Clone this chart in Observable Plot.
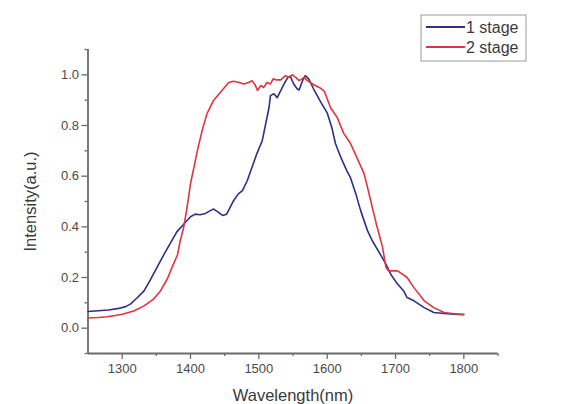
<!DOCTYPE html>
<html>
<head>
<meta charset="utf-8">
<script src="https://cdn.jsdelivr.net/npm/d3@7"></script>
<script src="https://cdn.jsdelivr.net/npm/@observablehq/plot@0.6"></script>
<style>
  html, body { margin: 0; padding: 0; background: #fff; }
  #wrap { position: relative; width: 582px; height: 404px; font-family: "Liberation Sans", Arial, sans-serif; }
  #legend { position: absolute; left: 0; top: 0; }
</style>
</head>
<body>
<div id="wrap"></div>
<script>
// Series names
const seriesNames = ["1 stage", "2 stage"];
const seriesColors = ["#2e3182", "#e2343f"];

// 1 stage
const wavelength1 = [1250,1265,1280,1295,1305,1312,1322,1332,1341,1351,1361,1371,1380,1390,1400,1407,1414,1422,1429,1434,1441,1447,1453,1458,1463,1470,1476,1483,1490,1497,1505,1510,1515,1517,1522,1527,1532,1537,1542,1546,1551,1556,1559,1564,1568,1573,1580,1590,1600,1607,1612,1620,1629,1634,1642,1649,1659,1666,1678,1686,1693,1703,1712,1717,1727,1742,1756,1771,1786,1800];
const intensity1 = [0.066,0.069,0.072,0.078,0.085,0.095,0.12,0.147,0.19,0.24,0.29,0.338,0.38,0.41,0.44,0.45,0.448,0.453,0.464,0.47,0.457,0.445,0.45,0.477,0.503,0.53,0.543,0.582,0.635,0.688,0.74,0.806,0.872,0.918,0.925,0.91,0.938,0.964,0.988,0.995,0.964,0.945,0.94,0.977,0.997,0.984,0.945,0.895,0.85,0.79,0.73,0.674,0.62,0.595,0.53,0.464,0.385,0.345,0.29,0.253,0.213,0.174,0.147,0.121,0.108,0.081,0.062,0.058,0.055,0.053];

// 2 stage
const wavelength2 = [1250,1265,1278,1290,1300,1317,1332,1346,1356,1366,1373,1381,1385,1390,1395,1400,1405,1410,1417,1424,1434,1446,1456,1463,1471,1478,1485,1490,1495,1498,1503,1507,1512,1517,1521,1526,1532,1539,1544,1549,1554,1559,1564,1566,1571,1581,1590,1596,1605,1615,1624,1634,1644,1654,1659,1666,1673,1681,1686,1690,1703,1717,1727,1742,1756,1771,1786,1800];
const intensity2 = [0.04,0.042,0.045,0.05,0.055,0.068,0.088,0.115,0.147,0.194,0.24,0.29,0.345,0.398,0.477,0.57,0.635,0.70,0.78,0.846,0.90,0.938,0.97,0.975,0.97,0.964,0.97,0.977,0.958,0.938,0.958,0.95,0.97,0.964,0.984,0.98,0.98,0.997,0.99,1.0,0.99,0.977,0.985,0.99,0.977,0.96,0.948,0.935,0.87,0.83,0.77,0.73,0.67,0.61,0.556,0.477,0.40,0.32,0.24,0.226,0.226,0.20,0.16,0.108,0.081,0.062,0.057,0.055];

// Ticks
const xMajorTicks = [1300,1400,1500,1600,1700,1800];
const xMinorTicks = [1350,1450,1550,1650,1750,1850];
const yMajorTicks = [0.0,0.2,0.4,0.6,0.8,1.0];
const yMinorTicks = [-0.1,0.1,0.3,0.5,0.7,0.9,1.1];
const xDomain = [1250, 1850];
const yDomain = [-0.1, 1.1];
const xLabel = "Wavelength(nm)";
const yLabel = "Intensity(a.u.)";

const data1 = wavelength1.map((w, i) => ({w, v: intensity1[i]}));
const data2 = wavelength2.map((w, i) => ({w, v: intensity2[i]}));

const axisColor = "#6a6a6a";
const textColor = "#4a4a4a";

const chart = Plot.plot({
  width: 582,
  height: 404,
  marginLeft: 87.5,
  marginRight: 84.5,
  marginTop: 49,
  marginBottom: 51,
  x: {domain: xDomain},
  y: {domain: yDomain},
  style: {fontFamily: "'Liberation Sans', Arial, sans-serif", background: "#fff", color: textColor},
  marks: [
    Plot.axisX(xMajorTicks, {tickSize: 6, tickPadding: 4, tickFormat: d => String(d), fontSize: 13, label: null, stroke: axisColor, strokeWidth: 1.3, fill: textColor}),
    Plot.axisX(xMinorTicks, {tickSize: 3, tickFormat: () => "", label: null, stroke: axisColor, strokeWidth: 1.3}),
    Plot.axisY(yMajorTicks, {tickSize: 6, tickPadding: 3, tickFormat: d3.format(".1f"), fontSize: 13, label: null, stroke: axisColor, strokeWidth: 1.3, fill: textColor}),
    Plot.axisY(yMinorTicks, {tickSize: 3, tickFormat: () => "", label: null, stroke: axisColor, strokeWidth: 1.3}),
    Plot.ruleX([xDomain[0]], {stroke: axisColor, strokeWidth: 1.8}),
    Plot.ruleY([yDomain[0]], {stroke: axisColor, strokeWidth: 1.8}),
    Plot.line(data1, {x: "w", y: "v", stroke: seriesColors[0], strokeWidth: 1.6}),
    Plot.line(data2, {x: "w", y: "v", stroke: seriesColors[1], strokeWidth: 1.6}),
    Plot.text([xLabel], {frameAnchor: "bottom", dy: 47, fontSize: 16.5, fill: "#3a3a3a"}),
    Plot.text([yLabel], {frameAnchor: "left", textAnchor: "middle", rotate: -90, dx: -57, fontSize: 16.5, fill: "#3a3a3a"})
  ]
});

const wrap = document.getElementById("wrap");
wrap.appendChild(chart);

// Legend (drawn with d3 in an overlay svg)
const leg = d3.select(wrap).append("svg")
  .attr("id", "legend")
  .attr("width", 582).attr("height", 404)
  .style("pointer-events", "none");
const boxX = 421, boxY = 15, boxW = 105, boxH = 46;
leg.append("rect").attr("x", boxX).attr("y", boxY).attr("width", boxW).attr("height", boxH)
  .attr("fill", "#fff").attr("stroke", "#9a9a9a").attr("stroke-width", 1);
seriesNames.forEach((name, i) => {
  const y = boxY + 12 + i * 20;
  leg.append("line").attr("x1", boxX + 5).attr("x2", boxX + 44).attr("y1", y).attr("y2", y)
    .attr("stroke", seriesColors[i]).attr("stroke-width", 1.8);
  leg.append("text").attr("x", boxX + 45).attr("y", y).attr("dy", "0.35em")
    .attr("font-size", 16).attr("fill", "#3a3a3a")
    .attr("font-family", "'Liberation Sans', Arial, sans-serif")
    .text(name);
});
</script>
</body>
</html>
